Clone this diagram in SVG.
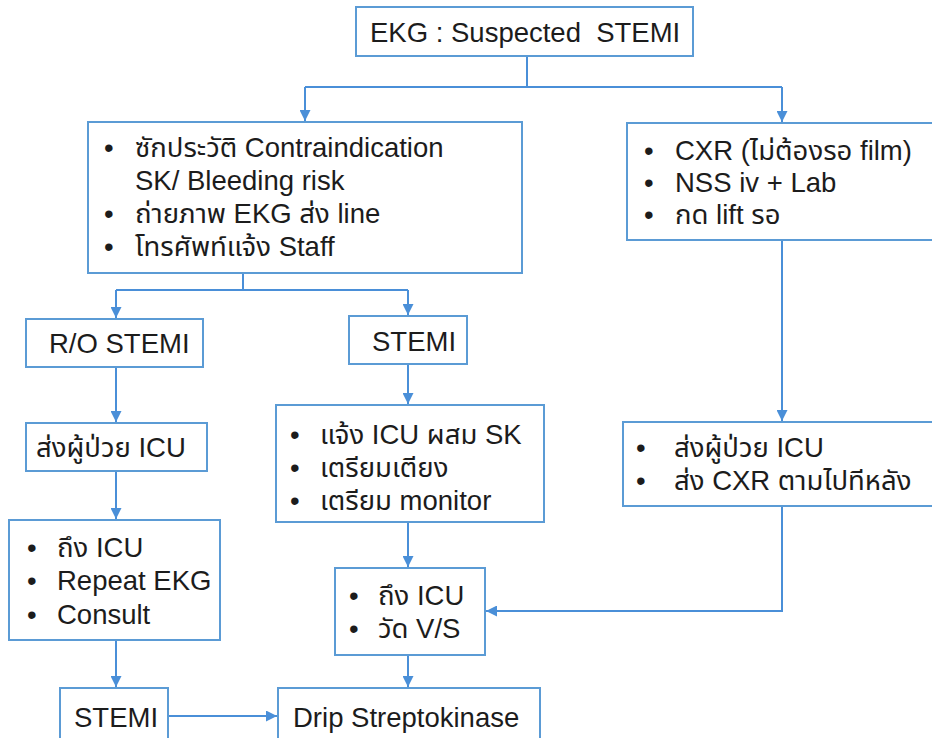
<svg xmlns="http://www.w3.org/2000/svg" width="932" height="738" viewBox="0 0 932 738">
<style>
.box{fill:#fff;stroke:#5b9bd5;stroke-width:2}
.ln{fill:none;stroke:#4a8fd8;stroke-width:2}
text{font-family:"Liberation Sans","Noto Sans Thai","Noto Sans",sans-serif;font-size:27.5px;fill:#1c1c1c;white-space:pre}
</style>
<defs>
<marker id="ah" viewBox="0 0 10 10" refX="10" refY="5" markerWidth="11" markerHeight="11" orient="auto" markerUnits="userSpaceOnUse">
<path d="M0,0 L10,5 L0,10 z" fill="#4a8fd8"/>
</marker>
</defs>
<rect width="932" height="738" fill="#fff"/>
<g id="connectors">
<path class="ln" d="M527,56 V87 M305,87 H782"/>
<path class="ln" d="M305,87 V121" marker-end="url(#ah)"/>
<path class="ln" d="M782,87 V122" marker-end="url(#ah)"/>
<path class="ln" d="M243,273 V290 M116,290 H408"/>
<path class="ln" d="M116,290 V318" marker-end="url(#ah)"/>
<path class="ln" d="M408,290 V315" marker-end="url(#ah)"/>
<path class="ln" d="M116,367 V422" marker-end="url(#ah)"/>
<path class="ln" d="M116,471 V519" marker-end="url(#ah)"/>
<path class="ln" d="M116,640 V687" marker-end="url(#ah)"/>
<path class="ln" d="M168,716 H277" marker-end="url(#ah)"/>
<path class="ln" d="M408,364 V404" marker-end="url(#ah)"/>
<path class="ln" d="M408,522 V567" marker-end="url(#ah)"/>
<path class="ln" d="M408,655 V687" marker-end="url(#ah)"/>
<path class="ln" d="M782,240 V421" marker-end="url(#ah)"/>
<path class="ln" d="M782,506 V611 H486" marker-end="url(#ah)"/>
</g>
<g id="n-ekg">
<rect class="box" x="356" y="7" width="337" height="49"/>
<text x="370" y="42">EKG : Suspected  STEMI</text>
</g>
<g id="n-history">
<rect class="box" x="88" y="122" width="434" height="151"/>
<text x="104" y="157">•</text><text x="135" y="157">ซักประวัติ Contraindication</text>
<text x="135" y="190">SK/ Bleeding risk</text>
<text x="104" y="223">•</text><text x="135" y="223">ถ่ายภาพ EKG ส่ง line</text>
<text x="104" y="256">•</text><text x="135" y="256">โทรศัพท์แจ้ง Staff</text>
</g>
<g id="n-cxr">
<rect class="box" x="627" y="123" width="320" height="117"/>
<text x="644" y="160">•</text><text x="675" y="160">CXR (ไม่ต้องรอ film)</text>
<text x="644" y="192">•</text><text x="675" y="192">NSS iv + Lab</text>
<text x="644" y="224">•</text><text x="675" y="224">กด lift รอ</text>
</g>
<g id="n-ro">
<rect class="box" x="26" y="319" width="177" height="48"/>
<text x="49" y="353">R/O STEMI</text>
</g>
<g id="n-stemi1">
<rect class="box" x="349" y="316" width="118" height="48"/>
<text x="372" y="351">STEMI</text>
</g>
<g id="n-send1">
<rect class="box" x="26" y="423" width="181" height="48"/>
<text x="36" y="457">ส่งผู้ป่วย ICU</text>
</g>
<g id="n-notify">
<rect class="box" x="276" y="405" width="268" height="117"/>
<text x="290" y="444">•</text><text x="320" y="444">แจ้ง ICU ผสม SK</text>
<text x="290" y="477">•</text><text x="320" y="477">เตรียมเตียง</text>
<text x="290" y="510">•</text><text x="320" y="510">เตรียม monitor</text>
</g>
<g id="n-send2">
<rect class="box" x="623" y="422" width="324" height="84"/>
<text x="636" y="457">•</text><text x="674" y="457">ส่งผู้ป่วย ICU</text>
<text x="636" y="490">•</text><text x="674" y="490">ส่ง CXR ตามไปทีหลัง</text>
</g>
<g id="n-arrive1">
<rect class="box" x="9" y="520" width="211" height="120"/>
<text x="27" y="557">•</text><text x="57" y="557">ถึง ICU</text>
<text x="27" y="590">•</text><text x="57" y="590">Repeat EKG</text>
<text x="27" y="624">•</text><text x="57" y="624">Consult</text>
</g>
<g id="n-arrive2">
<rect class="box" x="335" y="568" width="150" height="87"/>
<text x="349" y="605">•</text><text x="378" y="605">ถึง ICU</text>
<text x="349" y="638">•</text><text x="378" y="638">วัด V/S</text>
</g>
<g id="n-stemi2">
<rect class="box" x="60" y="688" width="108" height="60"/>
<text x="74" y="727">STEMI</text>
</g>
<g id="n-drip">
<rect class="box" x="278" y="688" width="262" height="60"/>
<text x="293" y="727">Drip Streptokinase</text>
</g>
</svg>
